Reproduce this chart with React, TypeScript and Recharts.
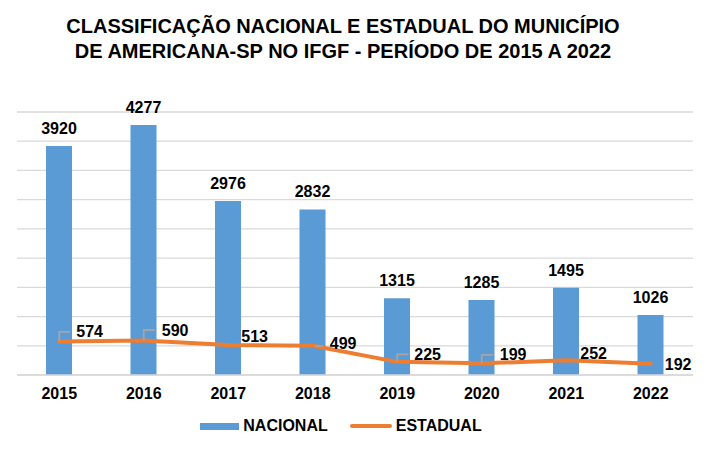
import { Bar, ComposedChart, Line, XAxis, YAxis, CartesianGrid, LabelList, Legend } from "recharts"

const years = ["2015", "2016", "2017", "2018", "2019", "2020", "2021", "2022"]
const nacional = [3920, 4277, 2976, 2832, 1315, 1285, 1495, 1026]
const estadual = [574, 590, 513, 499, 225, 199, 252, 192]
const yTicks = [0, 500, 1000, 1500, 2000, 2500, 3000, 3500, 4000, 4500]

const chartData = years.map((year, i) => ({ year, nacional: nacional[i], estadual: estadual[i] }))

// where each orange label sits relative to its point: dx, dy (baseline), leader kind
const lineLabelNudge: [number, number, string][] = [
  [17, -4, "up"],
  [18, -5, "up"],
  [13, -3, ""],
  [17, 3.5, "side"],
  [17, -2, "up"],
  [18, -3, "up"],
  [14, -1.5, ""],
  [14, 6, ""],
]

const FONT = "'Liberation Sans', Arial, sans-serif"
const BLUE = "#5B9BD5"
const ORANGE = "#ED7D31"
const GRID = "#D9D9D9"

const LineLabel = (props: any) => {
  const { x, y, value, index } = props
  const [dx, dy, kind] = lineLabelNudge[index] ?? [14, -3, ""]
  const mid = y + dy - 5.5
  return (
    <g>
      {kind === "up" && (
        <polyline
          points={`${x},${y} ${x},${mid} ${x + 11},${mid}`}
          fill="none"
          stroke="#A5A5A5"
          strokeWidth={1.8}
        />
      )}
      {kind === "side" && (
        <line x1={x + 2} y1={y} x2={x + 10} y2={y} stroke="#A5A5A5" strokeWidth={1.8} />
      )}
      <text x={x + dx} y={y + dy} fontSize={16} fontWeight="bold" fill="#000" fontFamily={FONT}>
        {value}
      </text>
    </g>
  )
}

const LegendBox = () => (
  <div
    style={{
      display: "flex",
      justifyContent: "center",
      alignItems: "center",
      height: 42,
      paddingRight: 28,
      fontFamily: FONT,
      fontSize: 16,
      fontWeight: "bold",
      color: "#000",
    }}
  >
    <span style={{ display: "inline-block", width: 39, height: 7, background: BLUE, marginRight: 4 }} />
    <span>NACIONAL</span>
    <span style={{ display: "inline-block", width: 42, height: 4, borderRadius: 2, background: ORANGE, marginLeft: 22, marginRight: 4 }} />
    <span>ESTADUAL</span>
  </div>
)

export default function App() {
  return (
    <div style={{ position: "absolute", left: 0, top: 0, width: 710, height: 451, background: "#fff" }}>
      <div
        style={{
          position: "absolute",
          left: 0,
          top: 14,
          width: 686,
          textAlign: "center",
          fontFamily: FONT,
          fontWeight: "bold",
          fontSize: 20,
          lineHeight: "25px",
          color: "#000",
        }}
      >
        CLASSIFICAÇÃO NACIONAL E ESTADUAL DO MUNICÍPIO
        <br />
        DE AMERICANA-SP NO IFGF - PERÍODO DE 2015 A 2022
      </div>
      <ComposedChart
        width={710}
        height={451}
        data={chartData}
        margin={{ top: 112, right: 17, bottom: 4, left: 17 }}
      >
        <CartesianGrid vertical={false} stroke={GRID} strokeWidth={1.3} />
        <XAxis
          dataKey="year"
          axisLine={{ stroke: GRID, strokeWidth: 1.3 }}
          tickLine={false}
          tickMargin={7}
          height={30}
          tick={{ fill: "#000", fontSize: 16, fontWeight: "bold", fontFamily: FONT }}
        />
        <YAxis hide domain={[0, 4500]} ticks={yTicks} />
        <Legend verticalAlign="bottom" height={42} content={<LegendBox />} />
        <Bar dataKey="nacional" name="NACIONAL" fill={BLUE} barSize={26} isAnimationActive={false}>
          <LabelList
            dataKey="nacional"
            position="top"
            offset={12}
            fill="#000"
            fontSize={16}
            fontWeight="bold"
            fontFamily={FONT}
          />
        </Bar>
        <Line
          dataKey="estadual"
          name="ESTADUAL"
          stroke={ORANGE}
          strokeWidth={4}
          strokeLinecap="round"
          strokeLinejoin="round"
          dot={false}
          isAnimationActive={false}
        >
          <LabelList dataKey="estadual" content={<LineLabel />} />
        </Line>
      </ComposedChart>
    </div>
  )
}
